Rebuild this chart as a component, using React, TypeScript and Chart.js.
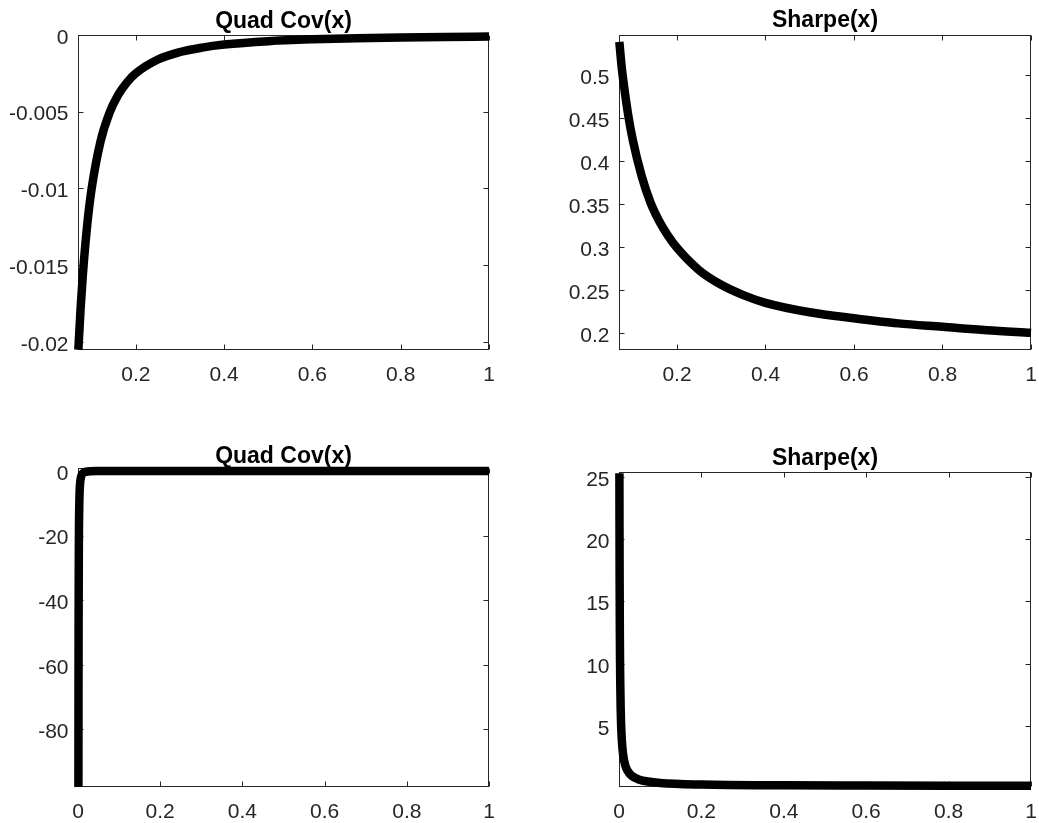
import React, { useEffect, useRef } from "react";
import { Chart, registerables } from "chart.js";

Chart.register(...registerables);

// ---- data ----
const topX = [0.0698, 0.075, 0.08, 0.09, 0.1, 0.12, 0.14, 0.16, 0.18, 0.2, 0.25, 0.3, 0.35, 0.4, 0.5, 0.6, 0.7, 0.8, 0.9, 1.0];
const topQuadCov = [-0.02053, -0.01778, -0.01563, -0.01235, -0.0100, -0.00694, -0.0051, -0.00391, -0.00309, -0.0025, -0.0016, -0.00111, -0.00082, -0.000625, -0.0004, -0.000278, -0.000204, -0.000156, -0.000123, -0.0001];
const topSharpe = [0.539, 0.51, 0.489, 0.453, 0.425, 0.383, 0.352, 0.33, 0.313, 0.299, 0.273, 0.256, 0.244, 0.235, 0.224, 0.217, 0.211, 0.207, 0.203, 0.2];

const bottomQuadX = [0.00101, 0.0012, 0.0015, 0.002, 0.0025, 0.003, 0.004, 0.005, 0.007, 0.01, 0.015, 0.02, 0.03, 0.05, 0.1, 0.2, 0.5, 1.0];
const bottomQuadCov = [-97.8, -69.4, -44.4, -25.0, -16.0, -11.1, -6.25, -4.0, -2.04, -1.0, -0.44, -0.25, -0.11, -0.04, -0.01, -0.0025, -0.0004, -0.0001];

const bottomSharpeX = [0.001, 0.0012, 0.0015, 0.002, 0.0025, 0.003, 0.004, 0.005, 0.007, 0.01, 0.015, 0.02, 0.03, 0.05, 0.07, 0.1, 0.2, 0.4, 0.6, 0.8, 1.0];
const bottomSharpe = [25.3, 21.2, 17.0, 12.8, 10.3, 8.6, 6.5, 5.2, 3.8, 2.7, 1.86, 1.44, 1.02, 0.68, 0.54, 0.425, 0.299, 0.235, 0.217, 0.207, 0.2];

const titleQuad = "Quad Cov(x)";
const titleSharpe = "Sharpe(x)";

const xTicksTop = [0.2, 0.4, 0.6, 0.8, 1];
const xTicksBottom = [0, 0.2, 0.4, 0.6, 0.8, 1];
const yTicksTL = [-0.02, -0.015, -0.01, -0.005, 0];
const yTicksTR = [0.2, 0.25, 0.3, 0.35, 0.4, 0.45, 0.5];
const yTicksBL = [-80, -60, -40, -20, 0];
const yTicksBR = [5, 10, 15, 20, 25];

const W = 1039;
const H = 823;
const FONT = '"Liberation Sans", Arial, Helvetica, sans-serif';
const AXIS_COLOR = "#262626";

type Panel = {
  xs: number[];
  ys: number[];
  title: string;
  xMin: number; xMax: number;
  yMin: number; yMax: number;
  xTicks: number[];
  yTicks: number[];
  area: { left: number; top: number; right: number; bottom: number };
  titleGap: number;
};

const panels: Panel[] = [
  { xs: topX, ys: topQuadCov, title: titleQuad, xMin: 0.069, xMax: 1, yMin: -0.02054, yMax: 0, xTicks: xTicksTop, yTicks: yTicksTL, area: { left: 78, top: 35, right: 489, bottom: 350 }, titleGap: 7 },
  { xs: topX, ys: topSharpe, title: titleSharpe, xMin: 0.069, xMax: 1, yMin: 0.18, yMax: 0.547, xTicks: xTicksTop, yTicks: yTicksTR, area: { left: 619, top: 35, right: 1031, bottom: 350 }, titleGap: 8 },
  { xs: bottomQuadX, ys: bottomQuadCov, title: titleQuad, xMin: 0, xMax: 1, yMin: -97.8, yMax: 0.9, xTicks: xTicksBottom, yTicks: yTicksBL, area: { left: 78, top: 468, right: 489, bottom: 787 }, titleGap: 5 },
  { xs: bottomSharpeX, ys: bottomSharpe, title: titleSharpe, xMin: 0, xMax: 1, yMin: 0.1, yMax: 25.4, xTicks: xTicksBottom, yTicks: yTicksBR, area: { left: 619, top: 472, right: 1031, bottom: 787 }, titleGap: 7.5 },
];

const Y_AXIS_W = 78;
const X_AXIS_H = 36;

const axesBoxPlugin = {
  id: "axesBox",
  beforeDatasetsDraw(chart: any, _args: any, opts: any) {
    const { ctx, chartArea } = chart;
    const { left, top, right, bottom } = chartArea;
    const xs = chart.scales.x;
    const ys = chart.scales.y;
    ctx.save();
    ctx.strokeStyle = AXIS_COLOR;
    ctx.lineWidth = 1;
    const L = Math.round(left) + 0.5;
    const R = Math.round(right) - 0.5;
    const T = Math.round(top) + 0.5;
    const B = Math.round(bottom) - 0.5;
    ctx.strokeRect(L, T, R - L, B - T);
    const tl = 5;
    ctx.beginPath();
    (opts.xTicks as number[]).forEach((v) => {
      const p = Math.round(xs.getPixelForValue(v)) + 0.5;
      ctx.moveTo(p, B); ctx.lineTo(p, B - tl);
      ctx.moveTo(p, T); ctx.lineTo(p, T + tl);
    });
    (opts.yTicks as number[]).forEach((v) => {
      const p = Math.round(ys.getPixelForValue(v)) + 0.5;
      ctx.moveTo(L, p); ctx.lineTo(L + tl, p);
      ctx.moveTo(R, p); ctx.lineTo(R - tl, p);
    });
    ctx.stroke();
    ctx.restore();
  },
  afterDraw(chart: any, _args: any, opts: any) {
    const { ctx, chartArea } = chart;
    ctx.save();
    ctx.fillStyle = "#000000";
    ctx.font = `bold 23px ${FONT}`;
    ctx.textAlign = "center";
    ctx.textBaseline = "alphabetic";
    ctx.fillText(opts.title, (chartArea.left + chartArea.right) / 2, chartArea.top - opts.titleGap);
    ctx.restore();
  },
};

function zeroPadding(s: any) {
  s.paddingLeft = 0;
  s.paddingRight = 0;
  s.paddingTop = 0;
  s.paddingBottom = 0;
}

function makeConfig(p: Panel): any {
  const data = p.xs.map((x, i) => ({ x, y: p.ys[i] }));
  const tickSetter = (arr: number[]) => (scale: any) => {
    scale.ticks = arr.map((v) => ({ value: v }));
  };
  return {
    type: "line",
    data: {
      datasets: [
        {
          data,
          borderColor: "#000000",
          borderWidth: 8.5,
          pointRadius: 0,
          pointHoverRadius: 0,
          fill: false,
          cubicInterpolationMode: "monotone",
          borderJoinStyle: "round",
          borderCapStyle: "butt",
          clip: false,
        },
      ],
    },
    options: {
      animation: false,
      responsive: false,
      events: [],
      layout: {
        autoPadding: false,
        padding: {
          left: p.area.left - Y_AXIS_W,
          top: p.area.top,
          right: W - p.area.right,
          bottom: Math.max(H - p.area.bottom - X_AXIS_H, 0),
        },
      },
      plugins: {
        legend: { display: false },
        tooltip: { enabled: false },
        title: { display: false },
        axesBox: { title: p.title, titleGap: p.titleGap, xTicks: p.xTicks, yTicks: p.yTicks },
      },
      scales: {
        x: {
          type: "linear",
          min: p.xMin,
          max: p.xMax,
          grid: { display: false, drawTicks: false },
          border: { display: false },
          afterBuildTicks: tickSetter(p.xTicks),
          afterFit: (s: any) => { s.height = X_AXIS_H; zeroPadding(s); },
          ticks: {
            padding: 13,
            maxRotation: 0,
            autoSkip: false,
            color: AXIS_COLOR,
            font: { family: FONT, size: 21 },
            callback: (v: any) => String(v),
          },
        },
        y: {
          type: "linear",
          min: p.yMin,
          max: p.yMax,
          grid: { display: false, drawTicks: false },
          border: { display: false },
          afterBuildTicks: tickSetter(p.yTicks),
          afterFit: (s: any) => { s.width = Y_AXIS_W; zeroPadding(s); },
          ticks: {
            padding: 9.5,
            labelOffset: 3,
            autoSkip: false,
            color: AXIS_COLOR,
            font: { family: FONT, size: 21 },
            callback: (v: any) => String(v),
          },
        },
      },
    },
    plugins: [axesBoxPlugin],
  };
}

export default function App() {
  const refs = [useRef<HTMLCanvasElement>(null), useRef<HTMLCanvasElement>(null), useRef<HTMLCanvasElement>(null), useRef<HTMLCanvasElement>(null)];

  useEffect(() => {
    const charts: Chart[] = [];
    panels.forEach((p, i) => {
      const c = refs[i].current;
      if (c) charts.push(new Chart(c, makeConfig(p)));
    });
    return () => charts.forEach((c) => c.destroy());
  }, []);

  return (
    <div style={{ position: "absolute", left: 0, top: 0, width: W, height: H, background: "#ffffff", overflow: "hidden" }}>
      {refs.map((r, i) => (
        <canvas key={i} ref={r} width={W} height={H} style={{ position: "absolute", left: 0, top: 0, width: W, height: H }} />
      ))}
    </div>
  );
}
